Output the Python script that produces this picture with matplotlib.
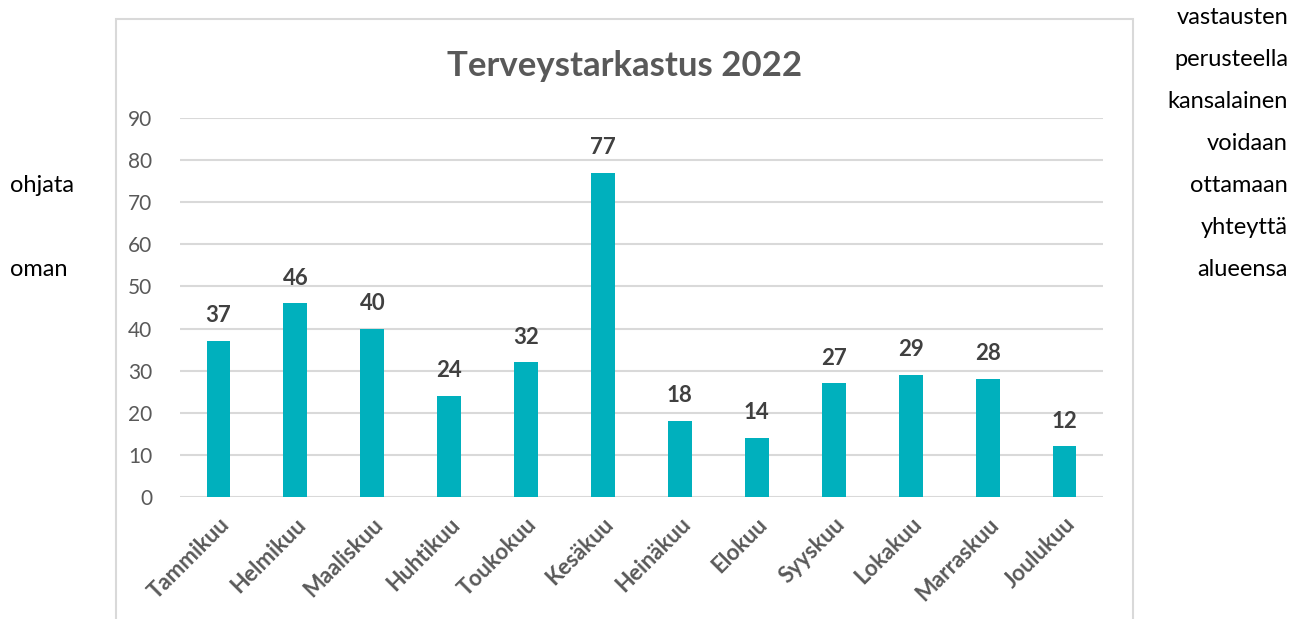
import matplotlib.pyplot as plt
from matplotlib.patches import Rectangle

plt.rcParams['font.family'] = ['Lato', 'DejaVu Sans']

months = ['Tammikuu', 'Helmikuu', 'Maaliskuu', 'Huhtikuu', 'Toukokuu', 'Kesäkuu',
          'Heinäkuu', 'Elokuu', 'Syyskuu', 'Lokakuu', 'Marraskuu', 'Joulukuu']
counts = [37, 46, 40, 24, 32, 77, 18, 14, 27, 29, 28, 12]
yticks = [0, 10, 20, 30, 40, 50, 60, 70, 80, 90]

right_words = ['vastausten', 'perusteella', 'kansalainen', 'voidaan',
               'ottamaan', 'yhteyttä', 'alueensa']
left_words = {185: 'ohjata', 269: 'oman'}

W, H = 1299, 619
fig = plt.figure(figsize=(W / 100, H / 100), dpi=100)

# chart frame
fig.patches.append(Rectangle((116 / W, -0.05), (1133 - 116) / W, 1 - 19 / H + 0.05,
                             transform=fig.transFigure, fill=False,
                             edgecolor='#d9d9d9', linewidth=1.5))

ax = fig.add_axes([180 / W, 1 - 497 / H, (1103 - 180) / W, (497 - 118) / H])
x = range(len(months))
ax.bar(x, counts, width=0.31, color='#00b0bd', zorder=3)
for i, v in zip(x, counts):
    ax.text(i, v + 3.5, str(v), ha='center', va='bottom', fontsize=16,
            fontweight='bold', color='#404040')

ax.set_ylim(0, 90)
ax.set_xlim(-0.5, len(months) - 0.5)
ax.set_yticks(yticks)
ax.grid(axis='y', color='#d9d9d9', linewidth=1.5, zorder=0)
for s in ax.spines.values():
    s.set_visible(False)
ax.tick_params(length=0)
ax.tick_params(axis='y', labelsize=15, labelcolor='#595959', pad=20)
ax.set_xticks(list(x))
ax.set_xticklabels(months, rotation=45, ha='right', rotation_mode='anchor',
                   fontsize=16, fontweight='bold', color='#595959')
ax.tick_params(axis='x', pad=12)

fig.text(625 / W, 1 - 66 / H, 'Terveystarkastus 2022', ha='center', va='center',
         fontsize=25, fontweight='bold', color='#595959')

for k, w in enumerate(right_words):
    fig.text(1288 / W, 1 - (17 + 42 * k) / H, w, ha='right', va='center',
             fontsize=17, color='black')
for yy, w in left_words.items():
    fig.text(10 / W, 1 - yy / H, w, ha='left', va='center', fontsize=17, color='black')

fig.savefig('out.png', dpi=100)
